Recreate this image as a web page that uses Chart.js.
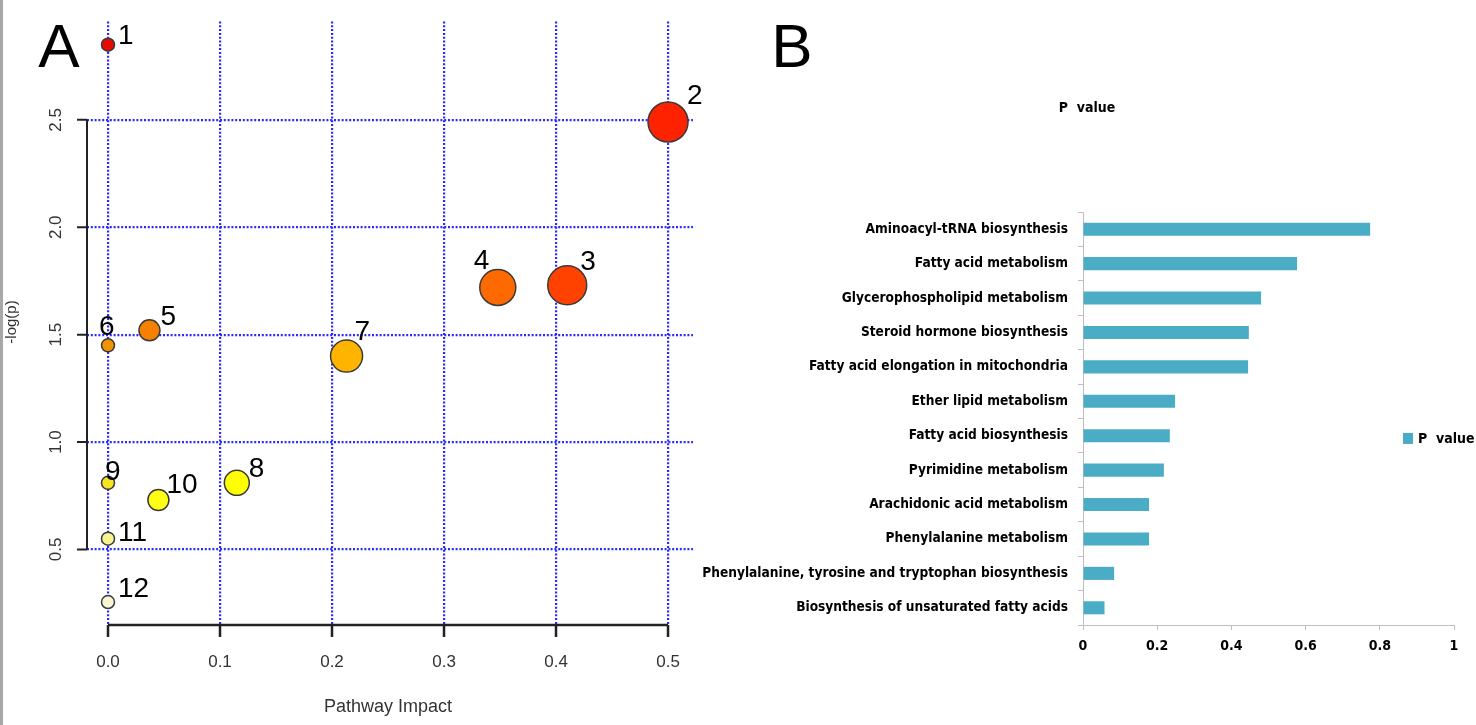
<!DOCTYPE html>
<html>
<head>
<meta charset="utf-8">
<title>Pathway analysis</title>
<script src="https://cdn.jsdelivr.net/npm/chart.js@4.4.0/dist/chart.umd.min.js"></script>
<style>
  html, body { margin: 0; padding: 0; background: #fff; }
  body { width: 1476px; height: 725px; position: relative; overflow: hidden; }
  #edge { position: absolute; left: 0; top: 0; width: 3px; height: 725px; background: #a8a8a8; }
  #impactWrap { position: absolute; left: 0; top: 0; width: 740px; height: 725px; }
  #pvalueWrap { position: absolute; left: 680px; top: 0; width: 796px; height: 725px; }
</style>
</head>
<body>
<div id="impactWrap"><canvas id="impactChart" width="740" height="725"></canvas></div>
<div id="pvalueWrap"><canvas id="pvalueChart" width="796" height="725"></canvas></div>
<div id="edge"></div>
<script>
// Panel A: pathway impact vs -log(p)
const pathwayIds = ['1', '2', '3', '4', '5', '6', '7', '8', '9', '10', '11', '12'];
const pathwayImpact = [0, 0.5, 0.41, 0.348, 0.037, 0, 0.213, 0.115, 0, 0.045, 0, 0];
const negLogP = [2.85, 2.49, 1.73, 1.72, 1.52, 1.45, 1.40, 0.81, 0.81, 0.73, 0.55, 0.255];
const bubbleSize = [6.5, 20, 19.5, 18, 10.5, 6.5, 16, 12.5, 6.5, 10.5, 6.5, 6.5];
const impactTicks = [0, 0.1, 0.2, 0.3, 0.4, 0.5];
const logPTicks = [0.5, 1.0, 1.5, 2.0, 2.5];

// Panel B: P value per pathway
const pathwayNames = [
    'Aminoacyl-tRNA biosynthesis',
    'Fatty acid metabolism',
    'Glycerophospholipid metabolism',
    'Steroid hormone biosynthesis',
    'Fatty acid elongation in mitochondria',
    'Ether lipid metabolism',
    'Fatty acid biosynthesis',
    'Pyrimidine metabolism',
    'Arachidonic acid metabolism',
    'Phenylalanine metabolism',
    'Phenylalanine, tyrosine and tryptophan biosynthesis',
    'Biosynthesis of unsaturated fatty acids'
];
const pValues = [0.774, 0.577, 0.48, 0.447, 0.445, 0.248, 0.234, 0.218, 0.178, 0.178, 0.084, 0.058];
const pValueTicks = [0, 0.2, 0.4, 0.6, 0.8, 1];

// styles
const bubbleColors = ['#e80a00', '#ff2200', '#ff4200', '#ff6a00', '#f88000', '#f39200',
    '#ffb400', '#ffff00', '#f7e31e', '#ffff14', '#f8f590', '#f8f6d2'];
const labelOffsets = [[10, -1], [19, -18], [13, -15], [-24, -18], [11, -5], [-9, -10],
    [8, -16], [12, -6], [-3, -3], [8, -7], [10, 2], [10, -5]];
const rFont = '"Liberation Sans", Arial, sans-serif';
const xlFont = '"DejaVu Sans Condensed", "Liberation Sans", sans-serif';
const barColor = '#4bacc6';
const gridBlue = '#2a2aff';

// R-style axes, titles and point numbers for panel A
const impactDecorPlugin = {
    id: 'impactDecor',
    afterDatasetsDraw(chart) {
        const ctx = chart.ctx;
        const meta = chart.getDatasetMeta(0);
        ctx.save();
        ctx.fillStyle = '#000';
        ctx.font = '28px ' + rFont;
        ctx.textAlign = 'left';
        ctx.textBaseline = 'alphabetic';
        meta.data.forEach((el, i) => {
            ctx.fillText(pathwayIds[i], el.x + labelOffsets[i][0], el.y + labelOffsets[i][1]);
        });
        ctx.restore();
    },
    afterDraw(chart) {
        const { ctx, chartArea } = chart;
        const xs = chart.scales.x, ys = chart.scales.y;
        ctx.save();
        ctx.strokeStyle = '#222';

        // bottom axis
        ctx.lineWidth = 2.5;
        ctx.beginPath();
        ctx.moveTo(xs.getPixelForValue(impactTicks[0]), chartArea.bottom);
        ctx.lineTo(xs.getPixelForValue(impactTicks[impactTicks.length - 1]), chartArea.bottom);
        impactTicks.forEach(v => {
            const px = xs.getPixelForValue(v);
            ctx.moveTo(px, chartArea.bottom);
            ctx.lineTo(px, chartArea.bottom + 12);
        });
        ctx.stroke();

        // left axis
        ctx.lineWidth = 2;
        ctx.beginPath();
        ctx.moveTo(chartArea.left, ys.getPixelForValue(logPTicks[0]));
        ctx.lineTo(chartArea.left, ys.getPixelForValue(logPTicks[logPTicks.length - 1]));
        logPTicks.forEach(v => {
            const py = ys.getPixelForValue(v);
            ctx.moveTo(chartArea.left, py);
            ctx.lineTo(chartArea.left - 10, py);
        });
        ctx.stroke();

        // tick labels
        ctx.fillStyle = '#333';
        ctx.font = '17px ' + rFont;
        ctx.textAlign = 'center';
        ctx.textBaseline = 'middle';
        impactTicks.forEach(v => {
            ctx.fillText(v.toFixed(1), xs.getPixelForValue(v), chartArea.bottom + 37);
        });
        logPTicks.forEach(v => {
            ctx.save();
            ctx.translate(chartArea.left - 31, ys.getPixelForValue(v));
            ctx.rotate(-Math.PI / 2);
            ctx.fillText(v.toFixed(1), 0, 0);
            ctx.restore();
        });

        // axis titles
        ctx.font = '18px ' + rFont;
        ctx.fillText('Pathway Impact', 388, chartArea.bottom + 82);
        ctx.save();
        ctx.font = '15px ' + rFont;
        ctx.translate(12, 322);
        ctx.rotate(-Math.PI / 2);
        ctx.fillText('-log(p)', 0, 0);
        ctx.restore();

        // panel letter
        ctx.fillStyle = '#000';
        ctx.font = '62px ' + rFont;
        ctx.textBaseline = 'alphabetic';
        ctx.fillText('A', 59, 67);
        ctx.restore();
    }
};

function initImpactChart() {
    const ctx = document.getElementById('impactChart').getContext('2d');
    new Chart(ctx, {
        type: 'bubble',
        data: {
            datasets: [{
                data: pathwayImpact.map((v, i) => ({ x: v, y: negLogP[i], r: bubbleSize[i] })),
                backgroundColor: bubbleColors,
                borderColor: '#3a3a3a',
                borderWidth: 1.5
            }]
        },
        options: {
            responsive: false,
            animation: false,
            devicePixelRatio: 1,
            layout: { padding: { left: 87, right: 47, top: 18, bottom: 100 } },
            plugins: {
                legend: { display: false },
                tooltip: { enabled: false }
            },
            scales: {
                x: {
                    type: 'linear',
                    min: -0.01875,
                    max: 0.5223,
                    afterBuildTicks: scale => { scale.ticks = impactTicks.map(v => ({ value: v })); },
                    ticks: { display: false },
                    grid: { color: gridBlue, lineWidth: 2.2, drawTicks: false },
                    border: { display: false, dash: [2, 1.8] }
                },
                y: {
                    type: 'linear',
                    min: 0.148,
                    max: 2.958,
                    afterBuildTicks: scale => { scale.ticks = logPTicks.map(v => ({ value: v })); },
                    ticks: { display: false },
                    grid: { color: gridBlue, lineWidth: 2.2, drawTicks: false },
                    border: { display: false, dash: [2, 1.8] }
                }
            }
        },
        plugins: [impactDecorPlugin]
    });
}

// title, legend and letter for panel B
const pvalueDecorPlugin = {
    id: 'pvalueDecor',
    afterDraw(chart) {
        const ctx = chart.ctx;
        ctx.save();
        ctx.fillStyle = '#000';
        ctx.font = 'bold 14px ' + xlFont;
        ctx.textAlign = 'center';
        ctx.textBaseline = 'middle';
        ctx.fillText('P  value', 407, 108);

        ctx.fillStyle = barColor;
        ctx.fillRect(723, 433, 10, 11);
        ctx.fillStyle = '#000';
        ctx.textAlign = 'left';
        ctx.fillText(chart.data.datasets[0].label, 738, 439);

        ctx.font = '62px ' + rFont;
        ctx.textAlign = 'center';
        ctx.textBaseline = 'alphabetic';
        ctx.fillText('B', 112, 67);
        ctx.restore();
    }
};

function initPValueChart() {
    const ctx = document.getElementById('pvalueChart').getContext('2d');
    new Chart(ctx, {
        type: 'bar',
        data: {
            labels: pathwayNames,
            datasets: [{
                label: 'P  value',
                data: pValues,
                backgroundColor: barColor,
                barPercentage: 0.38,
                categoryPercentage: 1
            }]
        },
        options: {
            indexAxis: 'y',
            responsive: false,
            animation: false,
            devicePixelRatio: 1,
            layout: { padding: { left: 0, right: 22, top: 212, bottom: 0 } },
            plugins: {
                legend: { display: false },
                tooltip: { enabled: false }
            },
            scales: {
                x: {
                    min: 0,
                    max: 1,
                    afterBuildTicks: scale => { scale.ticks = pValueTicks.map(v => ({ value: v })); },
                    afterFit: scale => { scale.height = 100; },
                    ticks: {
                        color: '#000',
                        padding: 8,
                        font: { family: xlFont, size: 14, weight: 'bold' },
                        callback: value => String(Math.round(value * 10) / 10)
                    },
                    grid: { drawOnChartArea: false, tickLength: 5, color: '#bfbfbf' },
                    border: { color: '#bfbfbf', width: 1 }
                },
                y: {
                    afterFit: scale => { scale.width = 403; },
                    ticks: {
                        color: '#000',
                        padding: 10,
                        autoSkip: false,
                        font: { family: xlFont, size: 13.6, weight: 'bold' }
                    },
                    grid: { drawOnChartArea: false, tickLength: 5, color: '#bfbfbf' },
                    border: { color: '#bfbfbf', width: 1 }
                }
            }
        },
        plugins: [pvalueDecorPlugin]
    });
}

document.addEventListener('DOMContentLoaded', () => {
    initImpactChart();
    initPValueChart();
});
</script>
</body>
</html>
